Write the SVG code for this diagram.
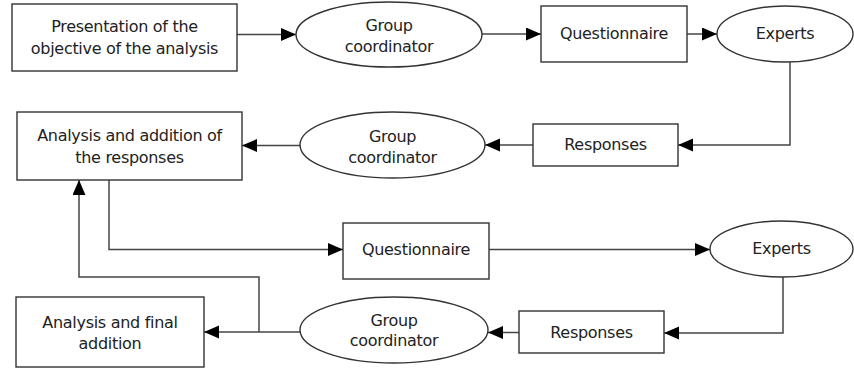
<svg xmlns="http://www.w3.org/2000/svg" width="854" height="368" viewBox="0 0 854 368">
<defs>
<style>
.n{fill:#fff;stroke:#333;stroke-width:1.4}
.t{font-family:"DejaVu Sans",Verdana,sans-serif;font-size:16px;letter-spacing:-0.3px;fill:#222;text-anchor:middle}
.c{fill:none;stroke:#444;stroke-width:1.5}
</style>
<marker id="ah" markerUnits="userSpaceOnUse" markerWidth="16" markerHeight="14" refX="15" refY="6.5" orient="auto">
<path d="M0,0 L15,6.5 L0,13 Z" fill="#000"/>
</marker>
</defs>
<rect width="854" height="368" fill="#fff"/>
<g id="connectors">
<path class="c" d="M237,34.5 H296" marker-end="url(#ah)"/>
<path class="c" d="M482,34 H541" marker-end="url(#ah)"/>
<path class="c" d="M687,34 H717" marker-end="url(#ah)"/>
<path class="c" d="M790,62 V145 H678" marker-end="url(#ah)"/>
<path class="c" d="M533,145 H485" marker-end="url(#ah)"/>
<path class="c" d="M300,145.5 H242" marker-end="url(#ah)"/>
<path class="c" d="M109,180 V249.5 H343" marker-end="url(#ah)"/>
<path class="c" d="M489,249.5 H710" marker-end="url(#ah)"/>
<path class="c" d="M783,277 V333 H664" marker-end="url(#ah)"/>
<path class="c" d="M519,332.5 H488" marker-end="url(#ah)"/>
<path class="c" d="M300,332 H204" marker-end="url(#ah)"/>
<path class="c" d="M259,332 V277 H79 V180" marker-end="url(#ah)"/>
</g>
<g id="n1"><rect class="n" x="12" y="4" width="225" height="67"/>
<text class="t" x="124.5" y="32">Presentation of the</text><text class="t" x="124.5" y="54">objective of the analysis</text></g>
<g id="n2"><ellipse class="n" cx="389" cy="34.5" rx="93" ry="32.5"/>
<text class="t" x="389" y="31">Group</text><text class="t" x="389" y="52">coordinator</text></g>
<g id="n3"><rect class="n" x="541" y="6" width="146" height="56"/>
<text class="t" x="614" y="38.5">Questionnaire</text></g>
<g id="n4"><ellipse class="n" cx="785" cy="34" rx="68" ry="28"/>
<text class="t" x="785" y="38.5">Experts</text></g>
<g id="n5"><rect class="n" x="533" y="124" width="145" height="42"/>
<text class="t" x="605.5" y="150">Responses</text></g>
<g id="n6"><ellipse class="n" cx="392.5" cy="145" rx="92.5" ry="33"/>
<text class="t" x="392.5" y="141.5">Group</text><text class="t" x="392.5" y="163">coordinator</text></g>
<g id="n7"><rect class="n" x="17" y="112" width="225" height="68"/>
<text class="t" x="129.5" y="141">Analysis and addition of</text><text class="t" x="129.5" y="162.5">the responses</text></g>
<g id="n8"><rect class="n" x="343" y="223" width="146" height="56"/>
<text class="t" x="416" y="254.5">Questionnaire</text></g>
<g id="n9"><ellipse class="n" cx="781.5" cy="249" rx="71.5" ry="28"/>
<text class="t" x="781.5" y="254">Experts</text></g>
<g id="n10"><rect class="n" x="519" y="311" width="145" height="42"/>
<text class="t" x="591.5" y="337.5">Responses</text></g>
<g id="n11"><ellipse class="n" cx="394" cy="330" rx="94" ry="33"/>
<text class="t" x="394" y="325.5">Group</text><text class="t" x="394" y="346">coordinator</text></g>
<g id="n12"><rect class="n" x="16" y="297" width="188" height="70"/>
<text class="t" x="110" y="327.5">Analysis and final</text><text class="t" x="110" y="348.5">addition</text></g>
</svg>
